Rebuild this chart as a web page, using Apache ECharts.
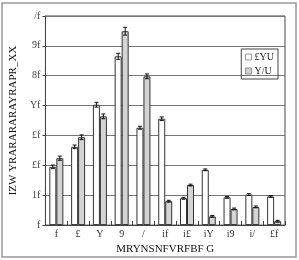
<!DOCTYPE html>
<html>
<head>
<meta charset="UTF-8">
<script src="https://cdn.jsdelivr.net/npm/echarts@6/dist/echarts.min.js"></script>
<style>
html,body{margin:0;padding:0;background:#fff;}
#chart{width:299px;height:260px;}
</style>
</head>
<body>
<div id="chart"></div>
<script>
// categories and tick labels, as they appear in the picture
var categories = ['f', '£', 'Y', '9', '/', 'if', 'i£', 'iY', 'i9', 'i/', '£f'];
var yTickLabels = ['f', '1f', '£f', '£f', 'Yf', '8f', '9f', '/f'];
var legendNames = ['£YU', 'Y/U'];
// bar values and error sizes
var whiteVals = [19.5, 26.2, 40.3, 56.5, 32.6, 35.6, 9.0, 18.5, 9.3, 10.2, 9.6];
var grayVals = [22.4, 29.4, 36.4, 64.9, 49.8, 8.0, 13.4, 2.9, 5.4, 6.1, 1.3];
var whiteErr = [0.6, 0.6, 0.8, 1.0, 0.5, 0.6, 0.3, 0.3, 0.3, 0.3, 0.3];
var grayErr = [0.7, 0.8, 0.8, 1.3, 0.8, 0.3, 0.3, 0.3, 0.3, 0.3, 0.3];

var font = '"Liberation Serif", "DejaVu Serif", serif';

function errData(vals, errs) {
  var out = [];
  for (var i = 0; i < vals.length; i++) {
    out.push([i, vals[i] - errs[i], vals[i] + errs[i]]);
  }
  return out;
}

function errRender(offset) {
  return function (params, api) {
    var lo = api.coord([api.value(0), api.value(1)]);
    var hi = api.coord([api.value(0), api.value(2)]);
    var x = lo[0] + offset;
    var st = {stroke: '#111', lineWidth: 1};
    return {
      type: 'group',
      children: [
        {type: 'line', shape: {x1: x, y1: lo[1], x2: x, y2: hi[1]}, style: st},
        {type: 'line', shape: {x1: x - 2, y1: lo[1], x2: x + 2, y2: lo[1]}, style: st},
        {type: 'line', shape: {x1: x - 2, y1: hi[1], x2: x + 2, y2: hi[1]}, style: st}
      ]
    };
  };
}

var myChart = echarts.init(document.getElementById('chart'));
var option = {
  animation: false,
  textStyle: {fontFamily: font},
  graphic: [{
    type: 'rect',
    shape: {x: 2, y: 3, width: 294, height: 254},
    style: {fill: 'none', stroke: '#999', lineWidth: 1.5},
    silent: true
  }],
  grid: {left: 40, right: 14, top: 16, bottom: 25, show: true, borderColor: '#444', borderWidth: 1},
  legend: {
    orient: 'vertical',
    right: 21,
    top: 49,
    data: legendNames,
    borderColor: '#444',
    borderWidth: 1,
    padding: [3, 4, 3, 4],
    itemWidth: 6,
    itemHeight: 6,
    itemGap: 4,
    icon: 'rect',
    itemStyle: {borderWidth: 0.6, borderColor: '#555'},
    textStyle: {fontFamily: font, fontSize: 10, color: '#222', padding: [0, 0, 0, -2]}
  },
  xAxis: {
    type: 'category',
    data: categories,
    name: 'MRYNSNFVRFBF G',
    nameLocation: 'middle',
    nameGap: 16,
    nameTextStyle: {fontFamily: font, fontSize: 11, color: '#111'},
    axisLine: {lineStyle: {color: '#444'}},
    axisTick: {show: true, inside: true, length: 4, lineStyle: {color: '#444'}},
    axisLabel: {fontFamily: font, fontSize: 10, color: '#333', margin: 4, interval: 0}
  },
  yAxis: {
    type: 'value',
    min: 0,
    max: 70,
    interval: 10,
    name: 'IZW YRARARARAYRAPR_XX',
    nameLocation: 'middle',
    nameGap: 24,
    nameTextStyle: {fontFamily: font, fontSize: 11, color: '#111'},
    axisLine: {show: true, lineStyle: {color: '#444'}},
    axisTick: {show: true, length: 3, lineStyle: {color: '#444'}},
    axisLabel: {
      fontFamily: font, fontSize: 10, color: '#444', margin: 5,
      formatter: function (v) { return yTickLabels[Math.round(v / 10)]; }
    },
    splitLine: {lineStyle: {color: '#777', width: 1}}
  },
  series: [
    {
      name: legendNames[0],
      type: 'bar',
      data: whiteVals,
      barWidth: 7,
      barGap: '0%',
      itemStyle: {color: '#fff', borderColor: '#333', borderWidth: 1}
    },
    {
      name: legendNames[1],
      type: 'bar',
      data: grayVals,
      barWidth: 7,
      itemStyle: {color: '#d4d4d4', borderColor: '#333', borderWidth: 1}
    },
    {
      type: 'custom',
      data: errData(whiteVals, whiteErr),
      renderItem: errRender(-3.5),
      encode: {x: 0, y: [1, 2]},
      z: 5
    },
    {
      type: 'custom',
      data: errData(grayVals, grayErr),
      renderItem: errRender(3.5),
      encode: {x: 0, y: [1, 2]},
      z: 5
    }
  ]
};
myChart.setOption(option);
</script>
</body>
</html>
